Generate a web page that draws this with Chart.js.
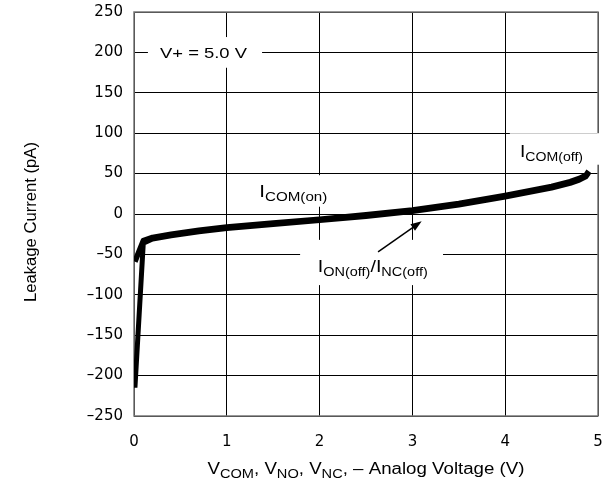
<!DOCTYPE html>
<html>
<head>
<meta charset="utf-8">
<script src="https://cdn.jsdelivr.net/npm/chart.js@4.4.0/dist/chart.umd.min.js"></script>
<style>
  html, body { margin: 0; padding: 0; background: #fff; }
  #wrap { width: 611px; height: 487px; }
</style>
</head>
<body>
<div id="wrap"><canvas id="leakageChart"></canvas></div>
<script>
// values
const voltageComOn = [0.01, 0.1, 0.2, 0.4, 0.7, 1.0, 1.5, 2.0, 2.5, 3.0, 3.5, 4.0, 4.5, 4.7, 4.8, 4.87, 4.9];
const currentComOn = [-59, -33, -29, -25, -20, -16, -11, -6.5, -1, 5, 13, 23, 34, 40, 44, 48, 53];
const voltageOff = [0.01, 0.1, 0.2, 0.4, 0.7, 1.0, 1.5, 2.0, 2.5, 3.0, 3.5, 4.0, 4.5, 4.7, 4.8, 4.87, 4.9];
const currentOff = [-215, -36, -31, -27, -22, -18, -13, -8, -3, 3, 11, 21, 32, 38, 42, 46, 51];
const xTickStep = 1;
const yTickStep = 50;
const xRange = [0, 5];
const yRange = [-250, 250];

const FONT = '"Liberation Sans", Arial, Helvetica, sans-serif';

function toPoints(xs, ys) {
  return xs.map((x, i) => ({ x: x, y: ys[i] }));
}

// text parts: [text, isSubscript]
const annotations = [
  { parts: [["V+ = 5.0 V", false]], x: 0.28, y: 193, width: 87, mainSize: 15,
    box: [0.15, 219, 1.38, 181] },
  { parts: [["I", false], ["COM(on)", true]], x: 1.35, y: 21, width: 68,
    box: [1.2, 48, 2.17, 9] },
  { parts: [["I", false], ["COM(off)", true]], x: 4.16, y: 70.5, width: 63,
    box: [4.05, 100, 5.09, 61] },
  { parts: [["I", false], ["ON(off)", true], ["/I", false], ["NC(off)", true]], x: 1.98, y: -72, width: 110,
    box: [1.79, -32, 3.33, -88] },
];

const arrow = { from: [2.63, -47], to: [3.1, -9] };

const xTitle = [["V", false], ["COM", true], [", V", false], ["NO", true], [", V", false], ["NC", true], [", \u2013 Analog Voltage (V)", false]];
const yTitle = "Leakage Current (pA)";

function partsWidth(ctx, parts, mainSize, subSize) {
  let w = 0;
  parts.forEach(([text, sub]) => {
    ctx.font = (sub ? subSize : mainSize) + "px " + FONT;
    w += ctx.measureText(text).width;
  });
  return w;
}

function drawParts(ctx, parts, x, y, targetWidth, mainSize, subSize) {
  const natural = partsWidth(ctx, parts, mainSize, subSize);
  const stretch = targetWidth / natural;
  ctx.save();
  ctx.translate(x, y);
  ctx.scale(stretch, 1);
  ctx.fillStyle = "#000";
  ctx.textBaseline = "alphabetic";
  ctx.textAlign = "left";
  let cx = 0;
  parts.forEach(([text, sub]) => {
    ctx.font = (sub ? subSize : mainSize) + "px " + FONT;
    ctx.fillText(text, cx, sub ? 4 : 0);
    cx += ctx.measureText(text).width;
  });
  ctx.restore();
}

const overlayPlugin = {
  id: "overlay",
  beforeDatasetsDraw(chart) {
    const { ctx, chartArea, scales } = chart;
    const xs = scales.x;
    const ys = scales.y;

    // plot frame
    ctx.save();
    ctx.strokeStyle = "#777";
    ctx.lineWidth = 1.5;
    ctx.strokeRect(chartArea.left, chartArea.top, chartArea.right - chartArea.left, chartArea.bottom - chartArea.top);
    ctx.restore();

    annotations.forEach((a) => {
      const x1 = xs.getPixelForValue(a.box[0]);
      const y1 = ys.getPixelForValue(a.box[1]);
      const x2 = xs.getPixelForValue(a.box[2]);
      const y2 = ys.getPixelForValue(a.box[3]);
      ctx.fillStyle = "#fff";
      ctx.fillRect(x1, y1, x2 - x1, y2 - y1);
      drawParts(ctx, a.parts, xs.getPixelForValue(a.x), ys.getPixelForValue(a.y), a.width, a.mainSize || 17, 12.5);
    });

    // arrow
    const ax1 = xs.getPixelForValue(arrow.from[0]);
    const ay1 = ys.getPixelForValue(arrow.from[1]);
    const ax2 = xs.getPixelForValue(arrow.to[0]);
    const ay2 = ys.getPixelForValue(arrow.to[1]);
    const ang = Math.atan2(ay2 - ay1, ax2 - ax1);
    const headLen = 11;
    const headHalf = 4;
    ctx.save();
    ctx.strokeStyle = "#000";
    ctx.fillStyle = "#000";
    ctx.lineWidth = 1.5;
    ctx.beginPath();
    ctx.moveTo(ax1, ay1);
    ctx.lineTo(ax2 - Math.cos(ang) * headLen, ay2 - Math.sin(ang) * headLen);
    ctx.stroke();
    ctx.translate(ax2, ay2);
    ctx.rotate(ang);
    ctx.beginPath();
    ctx.moveTo(0, 0);
    ctx.lineTo(-headLen, -headHalf);
    ctx.lineTo(-headLen, headHalf);
    ctx.closePath();
    ctx.fill();
    ctx.restore();
  },
  afterDraw(chart) {
    const { ctx, chartArea } = chart;
    const cx = (chartArea.left + chartArea.right) / 2;
    const tw = 317;
    drawParts(ctx, xTitle, cx - tw / 2, 474, tw, 16, 12.5);

    ctx.save();
    ctx.translate(36, 222);
    ctx.rotate(-Math.PI / 2);
    ctx.font = "16px " + FONT;
    const natural = ctx.measureText(yTitle).width;
    ctx.scale(160 / natural, 1);
    ctx.fillStyle = "#000";
    ctx.textAlign = "center";
    ctx.textBaseline = "alphabetic";
    ctx.fillText(yTitle, 0, 0);
    ctx.restore();
  },
};

const tickFont = { family: '"DejaVu Sans", sans-serif', size: 15 };

new Chart(document.getElementById("leakageChart"), {
  type: "scatter",
  data: {
    datasets: [
      {
        label: "ICOM(on)",
        data: toPoints(voltageComOn, currentComOn),
        showLine: true,
        borderColor: "#000",
        borderWidth: 5.5,
        borderJoinStyle: "round",
        pointRadius: 0,
      },
      {
        label: "ION(off)/INC(off)",
        data: toPoints(voltageOff, currentOff),
        showLine: true,
        borderColor: "#000",
        borderWidth: 5,
        borderJoinStyle: "round",
        pointRadius: 0,
      },
    ],
  },
  options: {
    responsive: true,
    maintainAspectRatio: false,
    animation: false,
    layout: { padding: { top: 12, right: 13, left: 0, bottom: 0 } },
    plugins: {
      legend: { display: false },
      tooltip: { enabled: false },
    },
    scales: {
      x: {
        type: "linear",
        min: xRange[0],
        max: xRange[1],
        ticks: { stepSize: xTickStep, color: "#000", font: tickFont, padding: 17 },
        grid: { color: "#000", lineWidth: 1, drawTicks: false },
        border: { display: false },
        afterFit(scale) {
          scale.height = 71;
          scale.paddingLeft = 0;
          scale.paddingRight = 0;
        },
      },
      y: {
        type: "linear",
        min: yRange[0],
        max: yRange[1],
        ticks: {
          stepSize: yTickStep,
          color: "#000",
          font: tickFont,
          padding: 11,
          callback: (v) => String(v).replace("-", "\u2013"),
        },
        grid: { color: "#000", lineWidth: 1, drawTicks: false },
        border: { display: false },
        afterFit(scale) {
          scale.width = 134;
          scale.paddingTop = 0;
          scale.paddingBottom = 0;
        },
      },
    },
  },
  plugins: [overlayPlugin],
});
</script>
</body>
</html>
